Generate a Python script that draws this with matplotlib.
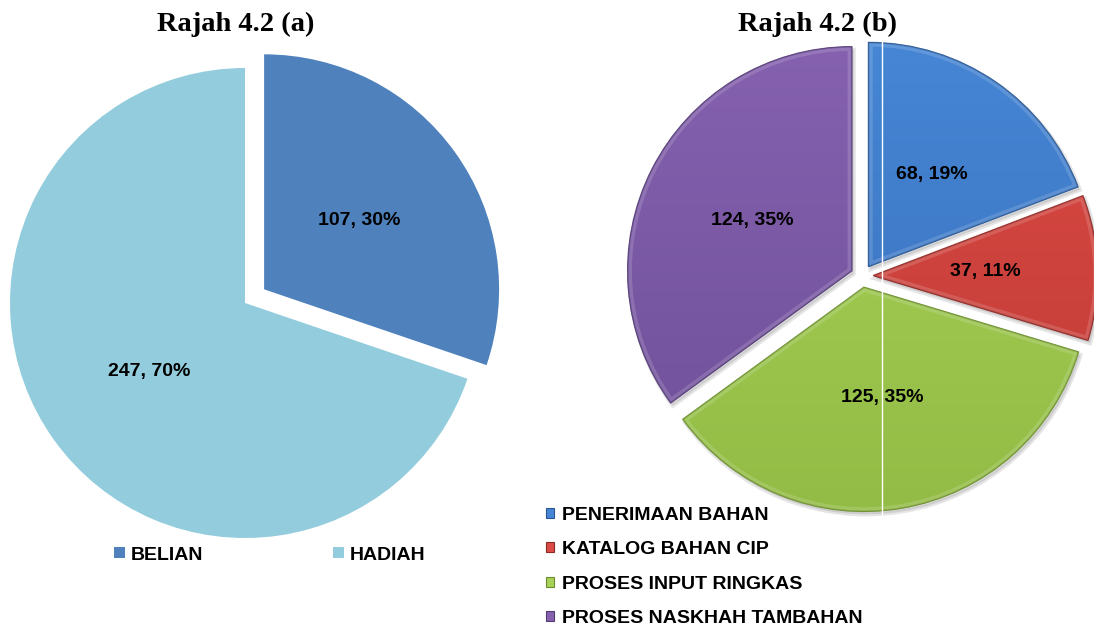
import matplotlib
matplotlib.use("Agg")
import matplotlib.pyplot as plt
import matplotlib.patches as mpatches
import numpy as np
from matplotlib.colors import to_rgb

# ---------------- data ----------------
title_a = "Rajah 4.2 (a)"
cats_a = ["BELIAN", "HADIAH"]
vals_a = [107, 247]
pct_a = [30, 70]

title_b = "Rajah 4.2 (b)"
cats_b = ["PENERIMAAN BAHAN", "KATALOG BAHAN CIP", "PROSES INPUT RINGKAS", "PROSES NASKHAH TAMBAHAN"]
vals_b = [68, 37, 125, 124]
pct_b = [19, 11, 35, 35]

# ---------------- style ----------------
colors_a = ["#4F81BD", "#93CDDD"]
colors_b_top = ["#4686D5", "#DC4B45", "#A7D157", "#8561AF"]
colors_b_bot = ["#386FBA", "#BE3934", "#92BC45", "#6F5099"]
colors_b_edge = ["#2A568F", "#8A2A26", "#6A8C2E", "#523A73"]

W, H = 1094, 630
fig = plt.figure(figsize=(W / 100, H / 100), dpi=100)
ax = fig.add_axes([0, 0, 1, 1])
ax.set_xlim(0, W)
ax.set_ylim(0, H)
ax.set_aspect("equal")
ax.axis("off")

sans = "Liberation Sans"
serif = "Liberation Serif"

# ---------------- pie (a) ----------------
it_a = iter([f"{v}, {p}%" for v, p in zip(vals_a, pct_a)])
wa, _, ta = ax.pie(vals_a, center=(245, 327), radius=235, explode=[23.5, 0],
                   startangle=90, counterclock=False, colors=colors_a,
                   autopct=lambda p: next(it_a), pctdistance=0.5,
                   wedgeprops=dict(linewidth=0), frame=True)
for t in ta:
    t.set_fontfamily(sans)
    t.set_fontweight("bold")
    t.set_fontsize(14)
    t.set_color("black")

ax.text(236, 606, title_a, ha="center", va="center", fontfamily=serif,
        fontweight="bold", fontsize=20.5)

leg_a = ax.legend(wa, cats_a, loc="center left", bbox_to_anchor=(114, 75),
                  bbox_transform=ax.transData, ncol=2, frameon=False,
                  prop=dict(family=sans, weight="bold", size=14),
                  handlelength=0.55, handleheight=0.55, handletextpad=0.3,
                  columnspacing=6.7, borderpad=0, borderaxespad=0)
ax.add_artist(leg_a)

# ---------------- pie (b) ----------------
center_b = (862, 354)
rad_b = 224
expl = [11.5] * 4

# soft shadow
wsh, _ = ax.pie(vals_b, center=(center_b[0] + 2, center_b[1] - 3), radius=rad_b,
                explode=expl, startangle=90, counterclock=False,
                colors=["#000000"] * 4,
                wedgeprops=dict(linewidth=3, edgecolor="#000000", alpha=0.10),
                frame=True)
for w in wsh:
    w.set_zorder(0.5)

it_b = iter([f"{v}, {p}%" for v, p in zip(vals_b, pct_b)])
wb, _, tb = ax.pie(vals_b, center=center_b, radius=rad_b, explode=expl,
                   startangle=90, counterclock=False, colors=colors_b_top,
                   autopct=lambda p: next(it_b), pctdistance=0.5,
                   wedgeprops=dict(linewidth=0), frame=True)

for i, w in enumerate(wb):
    top = np.array(to_rgb(colors_b_top[i]))
    bot = np.array(to_rgb(colors_b_bot[i]))
    n = 256
    g = np.linspace(0, 1, n)[:, None]
    img = top[None, None, :] * (1 - g[..., None]) + bot[None, None, :] * g[..., None]
    img = np.repeat(img, 2, axis=1)
    cx, cy = w.center
    r = w.r
    im = ax.imshow(img, extent=(cx - r, cx + r, cy - r, cy + r), origin="upper",
                   aspect="auto", zorder=1.2, interpolation="bilinear")
    im.set_clip_path(w)
    rim = mpatches.Wedge((cx, cy), r, w.theta1, w.theta2, fill=False,
                         edgecolor="white", linewidth=6, alpha=0.15, zorder=1.3)
    ax.add_patch(rim)
    rim.set_clip_path(w)
    edge = mpatches.Wedge((cx, cy), r, w.theta1, w.theta2, fill=False,
                          edgecolor=colors_b_edge[i], linewidth=1.2, alpha=0.55, zorder=1.4)
    ax.add_patch(edge)
    w.set_edgecolor(colors_b_edge[i])
    w.set_linewidth(0.8)

for t in tb:
    t.set_fontfamily(sans)
    t.set_fontweight("bold")
    t.set_fontsize(14)
    t.set_color("black")
    t.set_zorder(3)

ax.text(817, 606, title_b, ha="center", va="center", fontfamily=serif,
        fontweight="bold", fontsize=20.5)

leg_b = ax.legend(wb, cats_b, loc="center left", bbox_to_anchor=(546, 63),
                  bbox_transform=ax.transData, ncol=1, frameon=False,
                  prop=dict(family=sans, weight="bold", size=14),
                  handlelength=0.42, handleheight=0.42, handletextpad=0.4,
                  labelspacing=0.9, borderpad=0, borderaxespad=0)

# thin white vertical artefact line over pie (b)
ax.plot([881.5, 881.5], [H - 40, H - 518], color="white", linewidth=1, zorder=4)

ax.set_xlim(0, W)
ax.set_ylim(0, H)
ax.axis("off")
fig.savefig("out.png", dpi=100)
